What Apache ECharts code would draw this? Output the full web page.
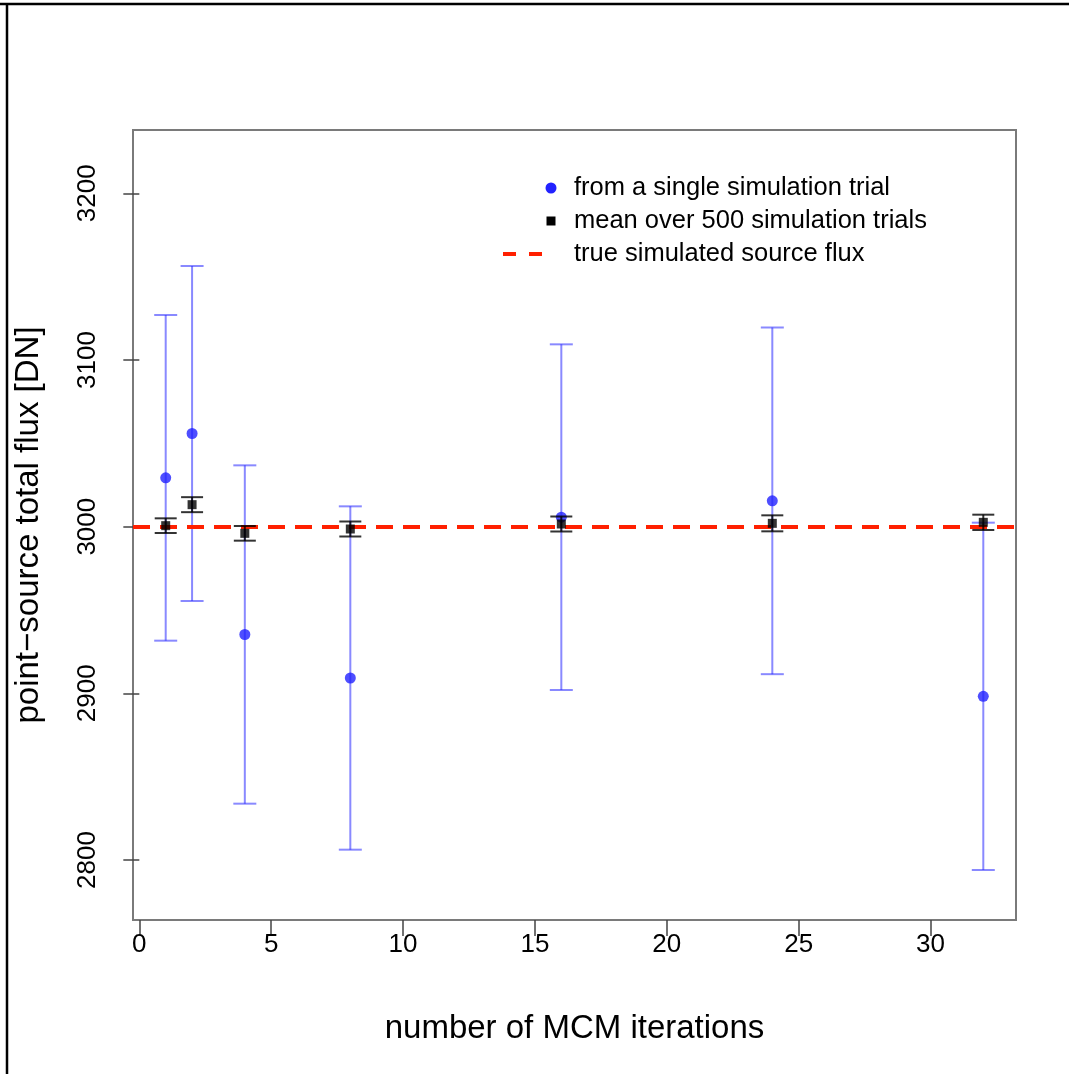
<!DOCTYPE html>
<html>
<head>
<meta charset="utf-8">
<script src="https://cdn.jsdelivr.net/npm/echarts@6/dist/echarts.min.js"></script>
<style>
  html, body { margin: 0; padding: 0; background: #ffffff; }
  #chart { width: 1069px; height: 1074px; }
</style>
</head>
<body>
<div id="chart"></div>
<script>
// MCM iteration counts tested
const iterations = [1, 2, 4, 8, 16, 24, 32];
// flux recovered from one simulation trial, with its 1-sigma uncertainty
const singleTrial = [3029.3, 3055.9, 2935.3, 2909.2, 3005.7, 3015.5, 2898.2];
const singleTrialErr = [97.7, 100.5, 101.5, 103.0, 103.7, 104.0, 104.2];
// mean flux over 500 trials, with its uncertainty
const meanTrials = [3000.6, 3013.2, 2996.0, 2998.6, 3001.6, 3002.0, 3002.6];
const meanTrialsErr = [4.4, 4.5, 4.4, 4.5, 4.5, 4.8, 4.6];
// injected source flux
const trueFlux = 3000;
// axis ticks
const xTicks = [0, 5, 10, 15, 20, 25, 30];
const yTicks = [2800, 2900, 3000, 3100, 3200];

const FONT = '"Liberation Sans", Arial, Helvetica, sans-serif';

function errorBarItem(color, capHalf, lineWidth) {
  return function (params, api) {
    const x = api.value(0);
    const pLo = api.coord([x, api.value(1)]);
    const pHi = api.coord([x, api.value(2)]);
    const style = { stroke: color, lineWidth: lineWidth, fill: null };
    return {
      type: 'group',
      children: [
        { type: 'line', shape: { x1: pLo[0], y1: pLo[1], x2: pHi[0], y2: pHi[1] }, style: style },
        { type: 'line', shape: { x1: pLo[0] - capHalf, y1: pLo[1], x2: pLo[0] + capHalf, y2: pLo[1] }, style: style },
        { type: 'line', shape: { x1: pHi[0] - capHalf, y1: pHi[1], x2: pHi[0] + capHalf, y2: pHi[1] }, style: style }
      ]
    };
  };
}

const singleBars = iterations.map((x, i) => [x, singleTrial[i] - singleTrialErr[i], singleTrial[i] + singleTrialErr[i]]);
const meanBars = iterations.map((x, i) => [x, meanTrials[i] - meanTrialsErr[i], meanTrials[i] + meanTrialsErr[i]]);
const singlePts = iterations.map((x, i) => [x, singleTrial[i]]);
const meanPts = iterations.map((x, i) => [x, meanTrials[i]]);

const chart = echarts.init(document.getElementById('chart'), null, { renderer: 'canvas' });

chart.setOption({
  animation: false,
  backgroundColor: '#ffffff',
  textStyle: { fontFamily: FONT },
  grid: {
    left: 133, top: 130, right: 53, bottom: 154,
    show: true, borderColor: '#7a7a7a', borderWidth: 2, backgroundColor: 'transparent'
  },
  xAxis: {
    type: 'value',
    min: -0.24, max: 33.24,
    axisLine: { show: false },
    splitLine: { show: false },
    axisTick: { show: true, length: 16, customValues: xTicks, lineStyle: { color: '#444', width: 1.5 } },
    axisLabel: { customValues: xTicks, fontSize: 26, color: '#000', margin: 12, fontFamily: FONT,
      formatter: function (v) { return String(v); } },
    name: 'number of MCM iterations',
    nameLocation: 'middle',
    nameGap: 92,
    nameTextStyle: { fontSize: 33, color: '#000', fontFamily: FONT }
  },
  yAxis: {
    type: 'value',
    min: 2764, max: 3238,
    axisLine: { show: false },
    splitLine: { show: false },
    axisTick: { show: true, length: 16, customValues: yTicks, lineStyle: { color: '#444', width: 1.5 } },
    axisLabel: { customValues: yTicks, rotate: 90, fontSize: 26, color: '#000', margin: 32, fontFamily: FONT,
      formatter: function (v) { return String(v); } },
    name: 'point\u2212source total flux [DN]',
    nameLocation: 'middle',
    nameRotate: 90,
    nameGap: 88,
    nameTextStyle: { fontSize: 33, color: '#000', fontFamily: FONT }
  },
  series: [
    {
      name: 'single trial uncertainty',
      type: 'custom',
      z: 2,
      renderItem: errorBarItem('rgba(40,40,255,0.55)', 11.5, 2),
      encode: { x: 0, y: [1, 2] },
      data: singleBars
    },
    {
      name: 'from a single simulation trial',
      type: 'scatter',
      z: 3,
      symbol: 'circle',
      symbolSize: 11,
      itemStyle: { color: '#2222ff' },
      data: singlePts
    },
    {
      name: 'true simulated source flux',
      type: 'scatter',
      z: 4,
      data: [],
      markLine: {
        silent: true,
        symbol: ['none', 'none'],
        label: { show: false },
        lineStyle: { color: '#ff2000', width: 4, type: [17, 10] },
        data: [{ yAxis: trueFlux }]
      }
    },
    {
      name: 'mean uncertainty',
      type: 'custom',
      z: 5,
      renderItem: errorBarItem('rgba(0,0,0,0.8)', 11, 2),
      encode: { x: 0, y: [1, 2] },
      data: meanBars
    },
    {
      name: 'mean over 500 simulation trials',
      type: 'scatter',
      z: 6,
      symbol: 'rect',
      symbolSize: 9,
      itemStyle: { color: '#000' },
      data: meanPts
    }
  ],
  graphic: [
    // outer frame edges
    { type: 'line', shape: { x1: 0, y1: 4, x2: 1069, y2: 4 }, style: { stroke: '#000', lineWidth: 2.5 } },
    { type: 'line', shape: { x1: 7, y1: 3, x2: 7, y2: 1074 }, style: { stroke: '#000', lineWidth: 2.5 } },
    // legend
    { type: 'circle', shape: { cx: 551, cy: 188, r: 5.5 }, style: { fill: '#2222ff' } },
    { type: 'rect', shape: { x: 546.5, y: 216.5, width: 9, height: 9 }, style: { fill: '#000' } },
    { type: 'line', shape: { x1: 503, y1: 254, x2: 516, y2: 254 }, style: { stroke: '#ff2000', lineWidth: 4 } },
    { type: 'line', shape: { x1: 529, y1: 254, x2: 542, y2: 254 }, style: { stroke: '#ff2000', lineWidth: 4 } },
    { type: 'text', x: 574, y: 188, style: { text: 'from a single simulation trial', font: '25.5px ' + FONT, fill: '#000', verticalAlign: 'middle' } },
    { type: 'text', x: 574, y: 221, style: { text: 'mean over 500 simulation trials', font: '25.5px ' + FONT, fill: '#000', verticalAlign: 'middle' } },
    { type: 'text', x: 574, y: 254, style: { text: 'true simulated source flux', font: '25.5px ' + FONT, fill: '#000', verticalAlign: 'middle' } }
  ]
});
</script>
</body>
</html>
